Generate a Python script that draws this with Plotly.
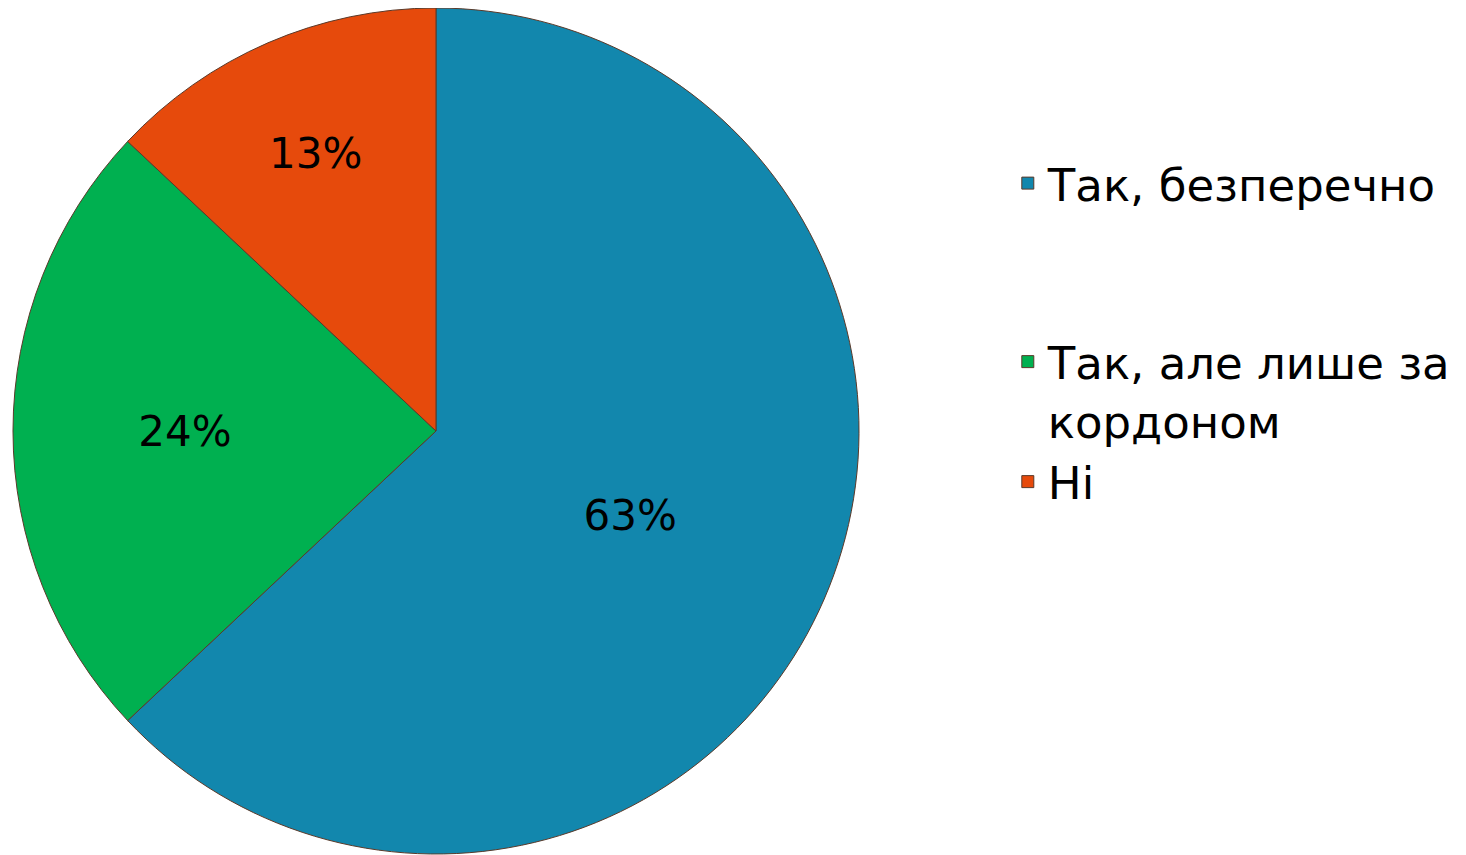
import plotly.graph_objects as go

# Pie data
labels = ["Так, безперечно<br> <br> ", "Так, але лише за<br>кордоном", "Ні"]
values = [63, 24, 13]
colors = ["#1287ad", "#00b050", "#e64a0c"]

fig = go.Figure()
fig.add_trace(go.Pie(
    labels=labels,
    values=values,
    sort=False,
    direction="clockwise",
    rotation=0,
    marker=dict(colors=colors, line=dict(color="#5a3a2a", width=1)),
    texttemplate="%{percent:.0%}",
    textposition="inside",
    insidetextorientation="horizontal",
    textfont=dict(family="DejaVu Sans", size=42, color="black"),
    domain=dict(x=[0.0034, 0.5805], y=[0.0105, 1.0]),
    hoverinfo="label+percent",
))

fig.update_layout(
    width=1466, height=855,
    margin=dict(l=0, r=0, t=0, b=0),
    paper_bgcolor="white",
    plot_bgcolor="white",
    font=dict(family="DejaVu Sans", color="black"),
    legend=dict(
        x=0.682, y=0.837, xanchor="left", yanchor="top",
        font=dict(size=45, family="DejaVu Sans", color="black"),
        valign="top",
        itemwidth=30,
    ),
)

fig.write_html("out.html")
